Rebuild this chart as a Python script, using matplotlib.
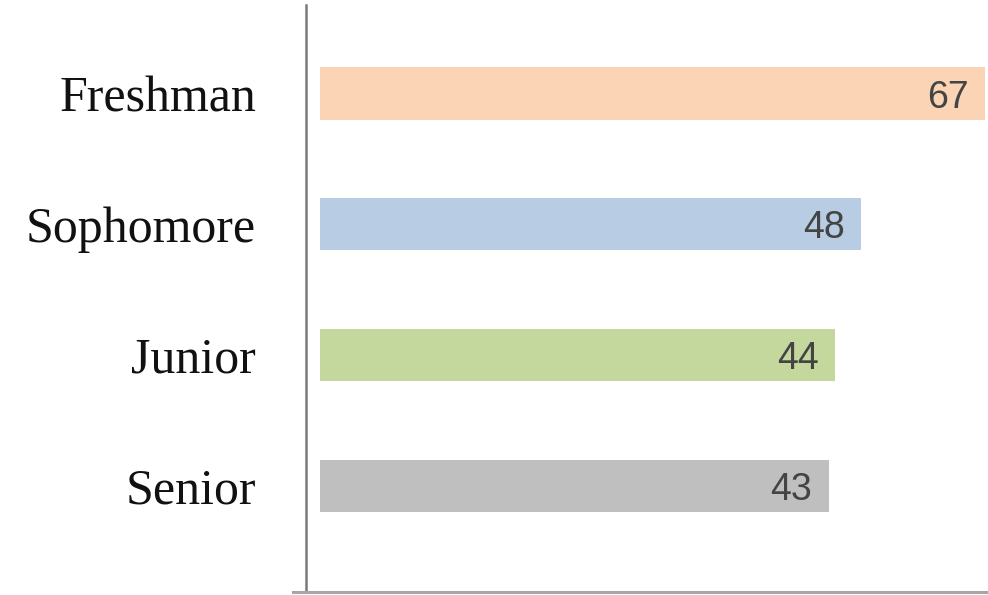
import matplotlib.pyplot as plt
from matplotlib.lines import Line2D

# class standing counts
categories = ["Freshman", "Sophomore", "Junior", "Senior"]
values = [67, 48, 44, 43]
bar_colors = ["#FAD4B5", "#B8CCE4", "#C4D89D", "#BFBFBF"]

base = -35  # bars start here (reference is not drawn from zero)

fig = plt.figure(figsize=(9.88, 5.95), dpi=100)
ax = fig.add_axes([306 / 988, 3 / 595, 682 / 988, 587 / 595])

pos = list(range(len(categories)))
ax.barh(pos, [v - base for v in values], left=base, height=0.40, color=bar_colors)

for p, v in zip(pos, values):
    ax.annotate(str(v), xy=(v, p), xytext=(-12, -3), textcoords="offset points",
                ha="right", va="center", fontsize=27, color="#444444",
                family="Liberation Sans")

ax.set_ylim(3.81, -0.676)
ax.set_xlim(base - 2.15, 67.46)

ax.set_yticks(pos)
ax.set_yticklabels(categories, family="Liberation Serif", fontsize=36, color="#111111")
ax.tick_params(axis="y", length=0, pad=36)
ax.set_xticks([])

for s in ["top", "right", "bottom"]:
    ax.spines[s].set_visible(False)
ax.spines["left"].set_color("#7a7a7a")
ax.spines["left"].set_linewidth(1.8)

# light baseline at the bottom, running a bit past the axis line
fig.add_artist(Line2D([293 / 988, 1.0], [3 / 595, 3 / 595], color="#a6a6a6", lw=2.2))

fig.savefig("out.png", dpi=100)
